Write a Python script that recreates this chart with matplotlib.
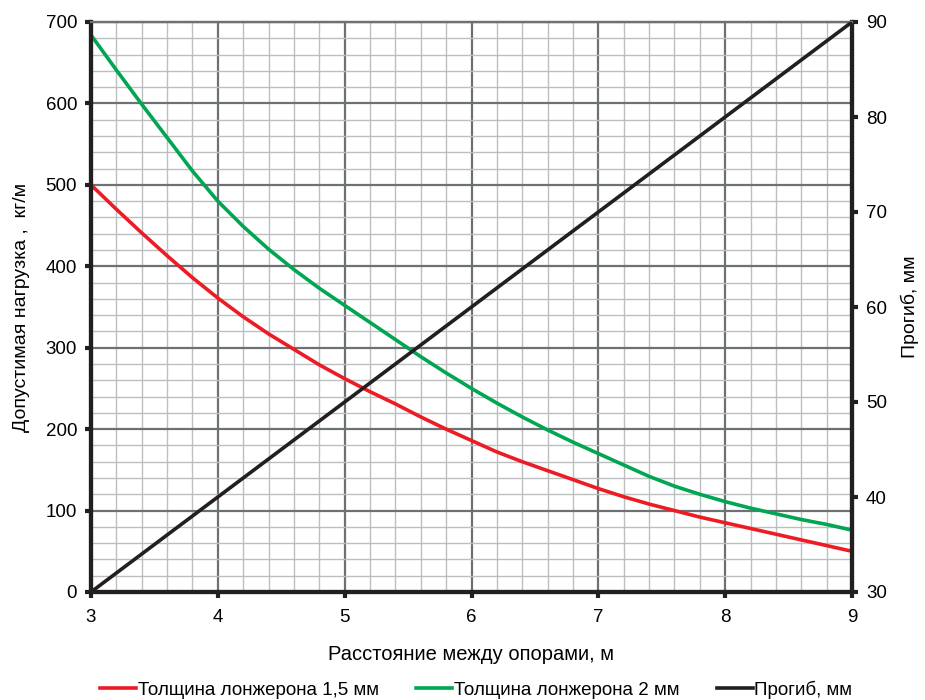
import matplotlib
matplotlib.use("Agg")
import matplotlib.pyplot as plt
from matplotlib.ticker import MultipleLocator

plt.rcParams['font.family'] = ['Liberation Sans', 'DejaVu Sans']

x = [3.0, 3.2, 3.4, 3.6, 3.8, 4.0, 4.2, 4.4, 4.6, 4.8, 5.0, 5.2, 5.4, 5.6, 5.8, 6.0,
     6.2, 6.4, 6.6, 6.8, 7.0, 7.2, 7.4, 7.6, 7.8, 8.0, 8.2, 8.4, 8.6, 8.8, 9.0]
load_15 = [500, 470, 441, 413, 386, 361, 338, 317, 298, 279, 262, 246, 231, 215, 200, 186,
           172, 160, 149, 138, 127, 117, 108, 100, 92, 85, 78, 71, 64, 57, 50]
load_2 = [684, 641, 599, 558, 517, 480, 449, 421, 396, 373, 352, 331, 310, 289, 269, 250,
          232, 215, 199, 184, 170, 156, 142, 130, 120, 111, 103, 96, 89, 83, 76]
defl_x = [3, 9]
defl = [30, 90]

fig = plt.figure(figsize=(9.25, 7), dpi=100)
ax = fig.add_axes([91/925, 1-592/700, (852-91)/925, (592-22)/700])
ax2 = ax.twinx()

red = '#ed1c24'
green = '#00a651'
black = '#231f20'

l1, = ax.plot(x, load_15, color=red, lw=2.6, zorder=3, label='Толщина лонжерона 1,5 мм')
l2, = ax.plot(x, load_2, color=green, lw=2.6, zorder=3, label='Толщина лонжерона 2 мм')
l3, = ax2.plot(defl_x, defl, color=black, lw=2.6, zorder=3, label='Прогиб, мм')

ax.set_xlim(3, 9)
ax.set_ylim(0, 700)
ax2.set_ylim(30, 90)
ax.xaxis.set_major_locator(MultipleLocator(1))
ax.xaxis.set_minor_locator(MultipleLocator(0.2))
ax.yaxis.set_major_locator(MultipleLocator(100))
ax.yaxis.set_minor_locator(MultipleLocator(20))
ax2.yaxis.set_major_locator(MultipleLocator(10))

ax.grid(which='minor', color='#bcbec0', lw=1.0, zorder=0)
ax.grid(which='major', color='#6d7173', lw=1.6, zorder=1)
ax.set_axisbelow(True)

for a in (ax, ax2):
    for s in a.spines.values():
        s.set_linewidth(3)
        s.set_color(black)
    a.spines['top'].set_color('#6d7173')
    a.spines['top'].set_linewidth(1.6)
ax.tick_params(which='minor', length=0)
ax.tick_params(which='major', direction='out', length=4, width=3, color=black, labelsize=13.5, pad=6)
ax.tick_params(axis='x', pad=8)
ax2.tick_params(which='major', direction='out', length=4, width=3, color=black, labelsize=13.5, pad=6)
ax2.tick_params(which='minor', length=0)

ax.set_xlabel('Расстояние между опорами, м', fontsize=14.5, labelpad=14)
ax.set_ylabel('Допустимая нагрузка ,  кг/м', fontsize=14, labelpad=11)
ax2.set_ylabel('Прогиб, мм', fontsize=14, labelpad=10)

fig.legend(handles=[l1, l2, l3], loc='lower center', bbox_to_anchor=(0.515, -0.022), ncol=3,
           frameon=False, fontsize=13.5, handlelength=1.9, handletextpad=0.1, columnspacing=2.0)

fig.savefig('out.png', dpi=100)
